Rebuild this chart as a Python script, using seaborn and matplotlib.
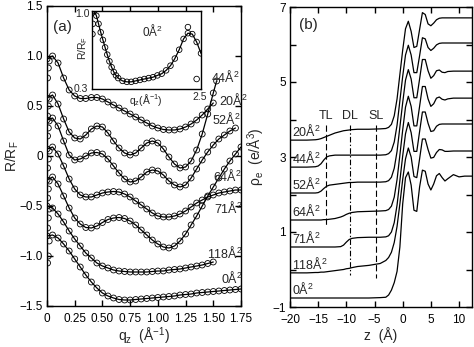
import numpy as np
import pandas as pd
import matplotlib
matplotlib.use("Agg")
import matplotlib.pyplot as plt
from matplotlib.ticker import FixedLocator, FuncFormatter, NullLocator
import seaborn as sns

# ---------------- (a) reflectivity curves, offset for clarity ----------------
Q = [0.00, 0.05, 0.10, 0.15, 0.20, 0.25, 0.30, 0.35, 0.40, 0.45, 0.50, 0.55,
     0.60, 0.65, 0.70, 0.75, 0.80, 0.85, 0.90, 0.95, 1.00, 1.05, 1.10, 1.15,
     1.20, 1.25, 1.30, 1.35, 1.40, 1.45, 1.50, 1.55, 1.60, 1.65, 1.70, 1.75]

r_20 = [0.97, 1.00, 0.93, 0.78, 0.66, 0.60, 0.575, 0.575, 0.585, 0.585, 0.57,
        0.54, 0.51, 0.48, 0.45, 0.42, 0.39, 0.36, 0.33, 0.30, 0.28, 0.265,
        0.26, 0.26, 0.27, 0.29, 0.32, 0.36, 0.41, 0.47, 0.53]
r_44 = [0.58, 0.61, 0.52, 0.37, 0.24, 0.18, 0.17, 0.21, 0.27, 0.30, 0.29, 0.23,
        0.15, 0.08, 0.03, 0.01, 0.03, 0.08, 0.13, 0.15, 0.13, 0.07, -0.01,
        -0.08, -0.12, -0.11, -0.05, 0.06, 0.22, 0.42, 0.63, 0.75]
q_44_end = 1.53
r_52 = [0.36, 0.38, 0.30, 0.15, 0.01, -0.04, -0.03, 0.0, 0.03, 0.035, 0.02,
        -0.03, -0.10, -0.17, -0.23, -0.26, -0.25, -0.21, -0.16, -0.14, -0.15,
        -0.19, -0.25, -0.29, -0.31, -0.29, -0.22, -0.13, -0.04, 0.04, 0.11,
        0.17, 0.21, 0.25, 0.28]
r_71 = [0.07, 0.09, 0.02, -0.10, -0.23, -0.33, -0.39, -0.41, -0.41, -0.39,
        -0.37, -0.36, -0.355, -0.36, -0.38, -0.41, -0.45, -0.49, -0.53, -0.57,
        -0.60, -0.61, -0.61, -0.60, -0.58, -0.55, -0.51, -0.47, -0.44, -0.41,
        -0.39, -0.37, -0.36, -0.35, -0.34, -0.34]
r_64 = [-0.24, -0.21, -0.28, -0.40, -0.52, -0.62, -0.68, -0.715, -0.72, -0.70,
        -0.665, -0.635, -0.62, -0.615, -0.625, -0.65, -0.69, -0.74, -0.79,
        -0.84, -0.88, -0.91, -0.92, -0.90, -0.85, -0.78, -0.69, -0.60, -0.50,
        -0.40, -0.31, -0.22, -0.13, -0.05, 0.02, 0.09]
r_118 = [-0.50, -0.52, -0.58, -0.66, -0.75, -0.83, -0.90, -0.97, -1.02, -1.07,
         -1.10, -1.12, -1.14, -1.15, -1.155, -1.16, -1.16, -1.16, -1.16,
         -1.155, -1.15, -1.15, -1.14, -1.135, -1.13, -1.12, -1.11, -1.10,
         -1.09, -1.075, -1.06]
r_0 = [-0.80, -0.79, -0.82, -0.88, -0.95, -1.03, -1.11, -1.19, -1.26, -1.32,
       -1.37, -1.40, -1.42, -1.435, -1.44, -1.44, -1.435, -1.43, -1.425, -1.42,
       -1.415, -1.41, -1.405, -1.40, -1.39, -1.385, -1.38, -1.37, -1.365,
       -1.36, -1.355, -1.35, -1.345, -1.34, -1.335, -1.33]

# points below the critical edge
q_low = [0.005, 0.012, 0.02]
low_20 = [0.78, 0.88, 0.95]
low_44 = [0.40, 0.50, 0.57]
low_52 = [0.20, 0.28, 0.35]
low_71 = [-0.12, -0.03, 0.05]
low_64 = [-0.42, -0.33, -0.25]
low_118 = [-0.72, -0.62, -0.53]
low_0 = [-1.07, -1.00, -0.85]

labels_a = ["44Å$^2$", "20Å$^2$", "52Å$^2$", "64Å$^2$", "71Å$^2$", "118Å$^2$", "0Å$^2$"]
label_q = [1.48, 1.55, 1.49, 1.50, 1.51, 1.44, 1.57]
label_r = [0.79, 0.56, 0.37, -0.20, -0.52, -0.97, -1.22]

# inset: unshifted 0 Å^2 curve over a wider q range
q_in = [0.0, 0.05, 0.1, 0.15, 0.2, 0.25, 0.3, 0.35, 0.4, 0.45, 0.5, 0.55, 0.6,
        0.7, 0.8, 0.9, 1.0, 1.1, 1.2, 1.3, 1.4, 1.5, 1.6, 1.7, 1.8, 1.9, 2.0,
        2.1, 2.2, 2.3, 2.4, 2.5]
r_in = [0.97, 1.0, 0.93, 0.82, 0.72, 0.64, 0.57, 0.51, 0.46, 0.42, 0.39, 0.37,
        0.355, 0.34, 0.335, 0.335, 0.34, 0.345, 0.35, 0.355, 0.36, 0.37, 0.38,
        0.40, 0.43, 0.48, 0.55, 0.65, 0.71, 0.70, 0.62, 0.52]
q_in_extra = [0.01, 0.02, 2.2, 2.4]
r_in_extra = [0.70, 0.82, 0.78, 0.35]

# ---------------- (b) electron density profiles, offset ----------------
Z = [-20, -17, -15.5, -15, -14.5, -14, -13.5, -13, -12, -11, -10.5, -10, -9.5,
     -9, -8, -6, -4, -3, -2.5, -2, -1.5, -1, -0.5, 0, 0.5, 1, 1.5, 2, 2.5, 3,
     3.5, 4, 4.5, 5, 5.5, 6, 6.5, 7, 7.5, 8, 9, 10, 11, 12.5]

p_20 = [3.45, 3.45, 3.46, 3.47, 3.49, 3.52, 3.55, 3.58, 3.64, 3.68, 3.70, 3.71,
        3.72, 3.73, 3.74, 3.74, 3.75, 3.76, 3.79, 3.87, 4.10, 4.55, 5.20, 5.85,
        6.42, 6.62, 6.35, 5.92, 5.95, 6.40, 6.85, 6.80, 6.55, 6.50, 6.57, 6.66,
        6.70, 6.71, 6.71, 6.71, 6.71, 6.71, 6.71, 6.71]
p_44 = [2.73, 2.73, 2.74, 2.76, 2.82, 2.92, 3.00, 3.03, 3.05, 3.05, 3.05, 3.05,
        3.05, 3.05, 3.05, 3.05, 3.05, 3.06, 3.09, 3.17, 3.40, 3.85, 4.50, 5.15,
        5.72, 5.98, 5.72, 5.25, 5.25, 5.70, 6.18, 6.15, 5.92, 5.84, 5.90, 5.99,
        6.03, 6.04, 6.04, 6.04, 6.04, 6.04, 6.04, 6.04]
p_52 = [2.04, 2.04, 2.04, 2.05, 2.09, 2.16, 2.22, 2.25, 2.27, 2.29, 2.30, 2.31,
        2.32, 2.32, 2.33, 2.33, 2.33, 2.34, 2.37, 2.46, 2.70, 3.15, 3.80, 4.45,
        5.05, 5.33, 5.08, 4.58, 4.58, 5.08, 5.60, 5.60, 5.30, 5.10, 5.17, 5.30,
        5.32, 5.26, 5.25, 5.28, 5.29, 5.29, 5.29, 5.29]
p_64 = [1.32, 1.32, 1.32, 1.32, 1.32, 1.33, 1.33, 1.34, 1.36, 1.40, 1.43, 1.47,
        1.50, 1.52, 1.54, 1.55, 1.56, 1.57, 1.60, 1.69, 1.93, 2.40, 3.05, 3.72,
        4.33, 4.62, 4.35, 3.83, 3.83, 4.35, 4.88, 4.88, 4.55, 4.35, 4.42, 4.57,
        4.60, 4.54, 4.52, 4.55, 4.57, 4.57, 4.57, 4.57]
p_71 = [0.60, 0.60, 0.60, 0.60, 0.60, 0.60, 0.60, 0.60, 0.60, 0.61, 0.65, 0.73,
        0.80, 0.83, 0.85, 0.86, 0.86, 0.87, 0.90, 1.00, 1.25, 1.72, 2.37, 3.03,
        3.62, 3.92, 3.65, 3.15, 3.15, 3.68, 4.20, 4.20, 3.90, 3.68, 3.70, 3.82,
        3.87, 3.88, 3.88, 3.88, 3.88, 3.88, 3.88, 3.88]
p_118 = [-0.09, -0.09, -0.08, -0.08, -0.07, -0.07, -0.06, -0.05, -0.03, -0.01,
         0.00, 0.02, 0.03, 0.05, 0.08, 0.11, 0.16, 0.24, 0.32, 0.46, 0.72, 1.15,
         1.75, 2.40, 2.95, 3.24, 3.00, 2.48, 2.45, 2.95, 3.48, 3.48, 3.20, 2.97,
         2.99, 3.12, 3.20, 3.19, 3.15, 3.15, 3.16, 3.16, 3.16, 3.16]
p_0 = [-0.76, -0.76, -0.76, -0.76, -0.76, -0.76, -0.76, -0.76, -0.76, -0.76,
       -0.76, -0.76, -0.76, -0.76, -0.76, -0.76, -0.75, -0.74, -0.68, -0.55,
       -0.35, -0.05, 0.60, 1.75, 2.45, 2.60, 2.25, 1.58, 1.55, 2.20, 2.65, 2.62,
       2.28, 2.12, 2.28, 2.50, 2.56, 2.45, 2.36, 2.42, 2.53, 2.47, 2.49, 2.49]

labels_b = ["20Å$^2$", "44Å$^2$", "52Å$^2$", "64Å$^2$", "71Å$^2$", "118Å$^2$", "0Å$^2$"]

layer_names = ["TL", "DL", "SL"]
layer_z = [-13.6, -9.3, -4.7]
layer_top = 3.85
layer_bottom = [1.19, -0.15, -0.23]

# ---------------- style ----------------
sns.set_theme(style="ticks")
plt.rcParams["font.family"] = ["Liberation Sans", "DejaVu Sans"]
plt.rcParams["mathtext.default"] = "regular"
plt.rcParams["lines.scale_dashes"] = False
plt.rcParams["axes.linewidth"] = 1.0

TICK_FS = 8.5
LABEL_FS = 9
AXIS_FS = 10

W, H = 474, 347
fig = plt.figure(figsize=(W / 100, H / 100), dpi=100)


def box(x0, y0, x1, y1):
    return [x0 / W, 1 - y1 / H, (x1 - x0) / W, (y1 - y0) / H]


ax_a = fig.add_axes(box(47, 6, 241, 306))
ax_b = fig.add_axes(box(290, 7, 472, 307))
ax_in = fig.add_axes(box(92, 11, 201, 89))

LW = 0.9


def curve_with_points(ax, q, r, q_pts, r_pts, size=18):
    sns.lineplot(x=q, y=r, ax=ax, color="black", linewidth=LW, sort=False,
                 estimator=None, legend=False)
    sns.scatterplot(x=q_pts, y=r_pts, ax=ax, marker="o", s=size,
                    linewidth=0.6, legend=False, zorder=3)
    coll = ax.collections[-1]
    coll.set_facecolor("none")
    coll.set_edgecolor("black")


# panel (a)
curves_a = [
    (Q[:len(r_20)], r_20, low_20),
    (Q[:len(r_44) - 1] + [q_44_end], r_44, low_44),
    (Q[:len(r_52)], r_52, low_52),
    (Q[:len(r_71)], r_71, low_71),
    (Q[:len(r_64)], r_64, low_64),
    (Q[:len(r_118)], r_118, low_118),
    (Q[:len(r_0)], r_0, low_0),
]
for q, r, low in curves_a:
    curve_with_points(ax_a, q, r, q_low + list(q), low + list(r))

for s, x, y in zip(labels_a, label_q, label_r):
    ax_a.text(x, y, s, ha="left", va="center", fontsize=LABEL_FS)

ax_a.set_xlim(0, 1.75)
ax_a.set_ylim(-1.5, 1.5)
ax_a.xaxis.set_major_locator(FixedLocator([0, 0.25, 0.5, 0.75, 1.0, 1.25, 1.5, 1.75]))
ax_a.yaxis.set_major_locator(FixedLocator([-1.5, -1.0, -0.5, 0, 0.5, 1.0, 1.5]))
ax_a.xaxis.set_major_formatter(FuncFormatter(lambda v, p: "0" if abs(v) < 1e-9 else f"{v:.2f}"))
ax_a.yaxis.set_major_formatter(FuncFormatter(
    lambda v, p: "0" if abs(v) < 1e-9 else f"{v:.1f}".replace("-", "\u2212")))
ax_a.set_xlabel("q$_z$  (Å$^{-1}$)", fontsize=AXIS_FS)
ax_a.set_ylabel("R/R$_F$", fontsize=AXIS_FS)
ax_a.xaxis.set_label_coords(0.5, -0.066)
ax_a.yaxis.set_label_coords(-0.134, 0.5)
ax_a.text(0.135, 1.29, "(a)", fontsize=11, ha="center", va="center")

# inset
sns.lineplot(x=q_in, y=r_in, ax=ax_in, color="black", linewidth=LW, sort=False,
             estimator=None, legend=False)
sns.scatterplot(x=q_in + q_in_extra, y=r_in + r_in_extra, ax=ax_in, marker="o",
                s=16, linewidth=0.6, legend=False, zorder=3)
ax_in.collections[-1].set_facecolor("none")
ax_in.collections[-1].set_edgecolor("black")
ax_in.set_yscale("log")
ax_in.set_xlim(0, 2.5)
ax_in.set_ylim(0.3, 1.0)
ax_in.xaxis.set_major_locator(NullLocator())
ax_in.xaxis.set_minor_locator(NullLocator())
ax_in.yaxis.set_major_locator(NullLocator())
ax_in.yaxis.set_minor_locator(NullLocator())
ax_in.set_xlabel("")
ax_in.set_ylabel("")
ax_in.text(0.55, 0.75, "0Å$^2$", transform=ax_in.transAxes, fontsize=8.5,
           ha="center", va="center")


def ftext(x, y, s, **kw):
    fig.text(x / W, 1 - y / H, s, **kw)


ftext(82, 14, "1.0", fontsize=7.5, ha="center", va="center")
ftext(81, 89, "0.3", fontsize=7.5, ha="center", va="center")
ftext(83, 48, "R/R$_F$", fontsize=7.5, ha="center", va="center", rotation=90)
ftext(200, 97, "2.5", fontsize=7.5, ha="center", va="center")
ftext(146, 100, "q$_z$(Å$^{-1}$)", fontsize=7.5, ha="center", va="center")

# panel (b)
profiles = [p_20, p_44, p_52, p_64, p_71, p_118, p_0]
for p, s in zip(profiles, labels_b):
    sns.lineplot(x=Z, y=p, ax=ax_b, color="black", linewidth=LW, sort=False,
                 estimator=None, legend=False)
    ax_b.text(-19.65, p[0] + 0.03, s, ha="left", va="bottom", fontsize=LABEL_FS)

dash_styles = [(0, (4.5, 2.2)), (0, (4.0, 1.6, 1.0, 1.6)), (0, (4.5, 2.2))]
for name, z, yb, ls in zip(layer_names, layer_z, layer_bottom, dash_styles):
    ax_b.plot([z, z], [layer_top, yb], color="black", linewidth=0.8, linestyle=ls)
    ax_b.text(z, layer_top + 0.08, name, ha="center", va="bottom", fontsize=LABEL_FS)

ax_b.set_xlim(-20, 12.3)
ax_b.set_ylim(-1, 7)
ax_b.xaxis.set_major_locator(FixedLocator([-20, -15, -10, -5, 0, 5, 10]))
ax_b.yaxis.set_major_locator(FixedLocator([-1, 1, 3, 5, 7]))
ax_b.yaxis.set_minor_locator(FixedLocator([0, 2, 4, 6]))
ax_b.xaxis.set_major_formatter(FuncFormatter(lambda v, p: f"{v:g}".replace("-", "\u2212")))
ax_b.yaxis.set_major_formatter(FuncFormatter(lambda v, p: f"{v:g}".replace("-", "\u2212")))
ax_b.set_xlabel("z  (Å)", fontsize=AXIS_FS)
ax_b.set_ylabel("ρ$_e$  (e/Å$^3$)", fontsize=AXIS_FS)
ax_b.xaxis.set_label_coords(0.5, -0.066)
ax_b.yaxis.set_label_coords(-0.126, 0.5)
ax_b.text(-16.8, 6.52, "(b)", fontsize=11, ha="center", va="center")

for ax in (ax_a, ax_b):
    ax.tick_params(which="both", direction="in", top=True, right=True,
                   length=4, width=1.0, labelsize=TICK_FS, colors="black")
    ax.tick_params(axis="x", pad=5)
    ax.tick_params(axis="y", pad=3)
    for sp in ax.spines.values():
        sp.set_linewidth(1.0)
        sp.set_color("black")
for sp in ax_in.spines.values():
    sp.set_linewidth(1.0)
    sp.set_color("black")

fig.savefig("out.png", dpi=100)
